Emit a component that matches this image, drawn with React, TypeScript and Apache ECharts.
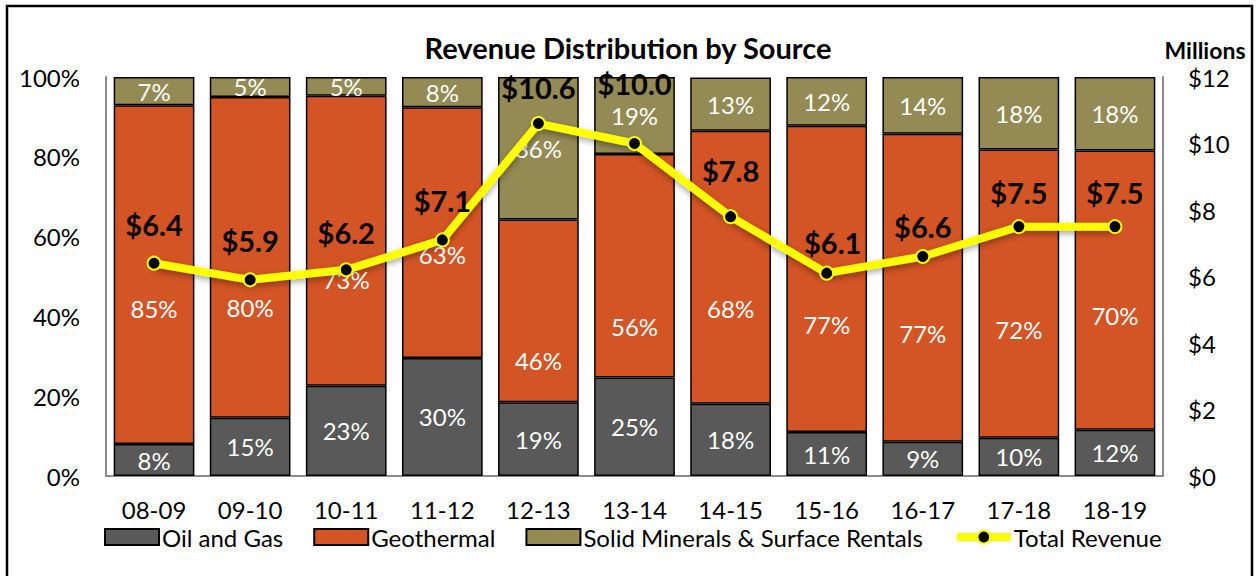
import React, { useEffect, useRef } from "react";
import * as echarts from "echarts";

const categories = ["08-09", "09-10", "10-11", "11-12", "12-13", "13-14", "14-15", "15-16", "16-17", "17-18", "18-19"];
const oilGas = [8.0, 14.6, 22.6, 29.6, 18.5, 24.7, 18.1, 11.0, 8.6, 9.6, 11.6];
const geothermal = [84.9, 80.4, 72.7, 62.8, 45.8, 56.0, 68.4, 76.8, 77.2, 72.2, 70.0];
const solidMinerals = [7.1, 5.0, 4.7, 7.6, 35.7, 19.3, 13.4, 12.2, 14.2, 18.2, 18.4];
const totalRevenue = [6.4, 5.9, 6.2, 7.1, 10.6, 10.0, 7.8, 6.1, 6.6, 7.5, 7.5];

// label placement tweaks (style only)
const geoLabelDy = [34, 50, 39, 22, 50, 61, 41, 46, 46, 36, 25];
const lineLabelDy = [0, 0, 2, 0, 3, -21, -7, 8, 9, 5, 5];
const lineLabelDx = [0, 0, 0, 0, 0, 0, 0, 6, 0, 0, 0];

const FONT = "Lato, 'Open Sans', sans-serif";
const C_OIL = "#595959";
const C_GEO = "#D35424";
const C_SOLID = "#948A54";

export default function App() {
  const ref = useRef<HTMLDivElement>(null);
  useEffect(() => {
    const chart = echarts.init(ref.current!, null, { renderer: "svg" });
    const pctLabel = { show: true, color: "#fff", fontSize: 24, fontFamily: FONT, formatter: (p: any) => Math.round(p.value) + "%" };
    const barBase = { type: "bar", stack: "s", barCategoryGap: "16%", yAxisIndex: 0 };
    chart.setOption({
      animation: false,
      textStyle: { fontFamily: FONT },
      title: {
        text: "Revenue Distribution by Source",
        left: "center",
        top: 28,
        textStyle: { fontSize: 29, fontWeight: "bold", color: "#000", fontFamily: FONT },
      },
      graphic: [
        { type: "rect", shape: { x: 7, y: 6, width: 1245, height: 620 }, style: { fill: "none", stroke: "#000", lineWidth: 2.5 }, silent: true },
        { type: "text", x: 1205, y: 50, style: { text: "Millions", fontSize: 23, fontWeight: "bold", fill: "#000", fontFamily: FONT, align: "center", verticalAlign: "middle" } },
      ],
      legend: {
        left: 99,
        top: 520,
        itemGap: 30,
        itemWidth: 54,
        itemHeight: 16,
        textStyle: { fontSize: 24, color: "#000", fontFamily: FONT, padding: [0, 0, 0, -2] },
        data: [
          { name: "Oil and Gas", icon: "rect" },
          { name: "Geothermal", icon: "rect" },
          { name: "Solid Minerals & Surface Rentals", icon: "rect" },
          { name: "Total Revenue", lineStyle: { width: 8 } },
        ],
      },
      grid: { left: 106, right: 93, top: 77, bottom: 100, containLabel: false },
      xAxis: {
        type: "category",
        data: categories,
        axisLine: { lineStyle: { color: "#8c8c8c", width: 2 } },
        axisTick: { show: false },
        axisLabel: { color: "#000", fontSize: 24, margin: 21, fontFamily: FONT },
      },
      yAxis: [
        {
          type: "value",
          min: 0,
          max: 100,
          interval: 20,
          axisLine: { show: true, lineStyle: { color: "#8c8c8c", width: 2 } },
          axisTick: { show: false },
          splitLine: { show: false },
          axisLabel: { color: "#000", fontSize: 24, margin: 26, formatter: "{value}%", fontFamily: FONT },
        },
        {
          type: "value",
          min: 0,
          max: 12,
          interval: 2,
          position: "right",
          axisLine: { show: true, lineStyle: { color: "#8c8c8c", width: 2 } },
          axisTick: { show: false },
          splitLine: { show: false },
          axisLabel: { color: "#000", fontSize: 24, margin: 25, formatter: "${value}", fontFamily: FONT },
        },
      ],
      series: [
        {
          ...barBase,
          name: "Oil and Gas",
          data: oilGas,
          itemStyle: { color: C_OIL, borderColor: "#000", borderWidth: 1.5 },
          label: pctLabel,
        },
        {
          ...barBase,
          name: "Geothermal",
          data: geothermal.map((v, i) => ({ value: v, label: { offset: [0, geoLabelDy[i]] } })),
          itemStyle: { color: C_GEO, borderColor: "#000", borderWidth: 1.5 },
          label: pctLabel,
        },
        {
          ...barBase,
          name: "Solid Minerals & Surface Rentals",
          data: solidMinerals,
          itemStyle: { color: C_SOLID, borderColor: "#000", borderWidth: 1.5 },
          label: pctLabel,
        },
        {
          type: "line",
          name: "Total Revenue",
          yAxisIndex: 1,
          z: 5,
          data: totalRevenue.map((v, i) => ({ value: v, label: { offset: [lineLabelDx[i], lineLabelDy[i]] } })),
          symbol: "circle",
          symbolSize: 13,
          lineStyle: { color: "#FFFF00", width: 8, shadowColor: "rgba(0,0,0,0.35)", shadowBlur: 6, shadowOffsetY: 3 },
          itemStyle: { color: "#000", borderColor: "#FFFF00", borderWidth: 2 },
          label: {
            show: true,
            position: "top",
            distance: 17,
            fontSize: 29,
            fontWeight: "bold",
            color: "#000",
            fontFamily: FONT,
            formatter: (p: any) => "$" + p.value.toFixed(1),
          },
        },
      ],
    });
    return () => chart.dispose();
  }, []);
  return <div ref={ref} style={{ position: "absolute", left: 0, top: 0, width: 1256, height: 576, background: "#fff" }} />;
}
